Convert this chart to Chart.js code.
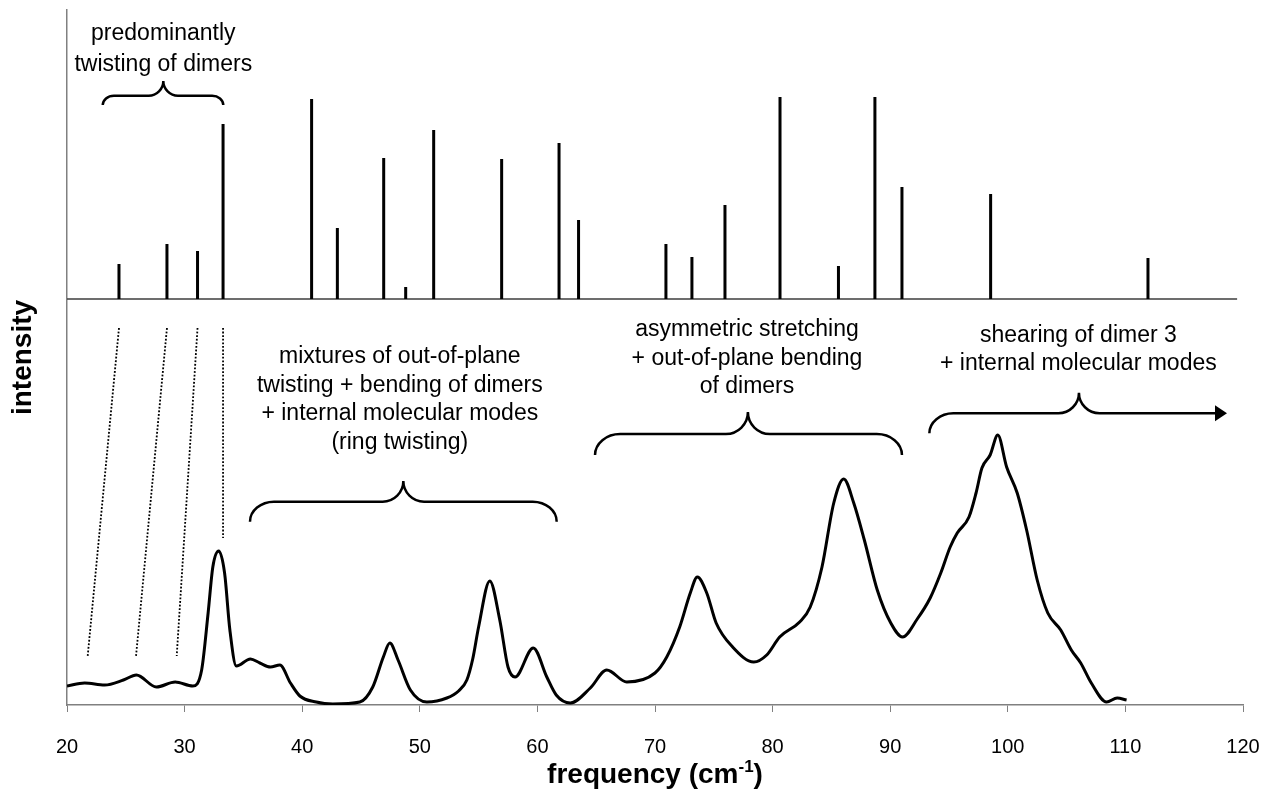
<!DOCTYPE html>
<html><head><meta charset="utf-8">
<script src="https://cdn.jsdelivr.net/npm/chart.js@4.4.1/dist/chart.umd.min.js"></script>
<style>html,body{margin:0;padding:0;background:#fff;overflow:hidden}canvas{display:block}</style>
</head><body>
<canvas id="c" width="1267" height="792"></canvas>
<script>
// ---- data ----
const spectrumFreq = [20.0, 21.5, 23.2, 24.8, 25.9, 27.6, 29.2, 30.7, 31.45, 32.0, 32.4, 32.9, 33.4, 33.85, 34.4, 35.6, 36.4, 37.3, 38.1, 39.0, 39.8, 41.2, 42.6, 44.9, 46.0, 46.9, 47.45, 48.15, 49.2, 50.6, 52.3, 53.3, 54.0, 54.5, 55.0, 55.95, 56.8, 57.5, 58.1, 59.65, 60.8, 61.6, 62.8, 64.5, 65.9, 67.6, 70.0, 71.0, 72.1, 73.0, 73.6, 74.4, 75.2, 76.6, 78.4, 79.5, 80.6, 82.3, 83.2, 84.2, 85.2, 86.05, 86.9, 87.8, 88.9, 90.05, 91.05, 92.3, 93.4, 94.3, 95.1, 95.7, 96.7, 97.3, 97.8, 98.5, 99.15, 99.9, 100.8, 101.6, 102.5, 103.4, 104.5, 105.4, 106.2, 107.1, 108.4, 109.3, 110.1];
const spectrumIntensity = [19, 22, 20, 25, 30, 18, 23, 19, 35, 92, 138, 154, 132, 75, 39, 46, 42, 38, 40, 22, 9, 3, 1, 3, 18, 48, 62, 45, 15, 3, 7, 14, 25, 46, 78, 124, 85, 38, 28, 57, 28, 10, 2, 17, 35, 23, 32, 48, 78, 112, 128, 112, 82, 58, 43, 50, 68, 83, 98, 138, 202, 226, 202, 165, 115, 82, 68, 86, 107, 132, 158, 172, 188, 212, 237, 250, 270, 238, 212, 175, 125, 92, 75, 55, 42, 22, 3, 7, 5];
const stickFreq = [24.42, 28.5, 31.1, 33.27, 40.8, 42.99, 46.93, 48.8, 51.18, 56.96, 61.84, 63.5, 70.93, 73.14, 75.95, 80.63, 85.6, 88.7, 91.0, 98.54, 111.92];
const stickIntensity = [35, 55, 48, 175, 200, 71, 141, 12, 169, 140, 156, 79, 55, 42, 94, 202, 33, 202, 112, 105, 41];
const xTicks = [20, 30, 40, 50, 60, 70, 80, 90, 100, 110, 120];
const stickBaselineRange = [20, 119.5];

// ---- annotations (positions in data units: x = frequency, y = spectrum intensity) ----
const FONT = '"Liberation Sans", Arial, sans-serif';
const noteTexts = [
  {x: 28.19, lines: ['predominantly', 'twisting of dimers'], y: [665, 634]},
  {x: 48.3, lines: ['mixtures of out-of-plane', 'twisting + bending of dimers', '+ internal molecular modes', '(ring twisting)'], y: [341.7, 313.3, 285, 256.5]},
  {x: 77.82, lines: ['asymmetric stretching', '+ out-of-plane bending', 'of dimers'], y: [369, 340.5, 312]},
  {x: 106.0, lines: ['shearing of dimer 3', '+ internal molecular modes'], y: [363.3, 335]}
];
const braces = [
  {x1: 23.04, x2: 33.29, xm: 28.19, yEnd: 600, yFlat: 609.3, yTip: 624, arrow: false},
  {x1: 35.56, x2: 61.64, xm: 48.6, yEnd: 183.3, yFlat: 203.3, yTip: 224, arrow: false},
  {x1: 64.9, x2: 91.0, xm: 77.9, yEnd: 250, yFlat: 271, yTip: 293, arrow: false},
  {x1: 93.33, x2: 118.64, xm: 106.05, yEnd: 271.7, yFlat: 291.7, yTip: 312.3, arrow: true}
];
const guideLines = [
  {x1: 24.42, y1: 377, x2: 21.76, y2: 49},
  {x1: 28.5, y1: 377, x2: 25.87, y2: 49},
  {x1: 31.1, y1: 377, x2: 29.33, y2: 49},
  {x1: 33.27, y1: 377, x2: 33.27, y2: 167}
];

// ---- build datasets from arrays ----
const spectrumData = spectrumFreq.map((f, i) => ({x: f, y: spectrumIntensity[i]}));
const stickData = [];
stickFreq.forEach((f, i) => { stickData.push({x: f, y: 0}, {x: f, y: stickIntensity[i]}, {x: f, y: null}); });
const baselineData = stickBaselineRange.map(f => ({x: f, y: 0}));

function drawBrace(ctx, b, X, Y) {
  const x1 = X(b.x1), x2 = X(b.x2), xm = X(b.xm);
  const yEnd = Y(b.yEnd), yFlat = Y(b.yFlat), yTip = Y(b.yTip);
  const ry = yEnd - yFlat, rx = ry * 1.2, th = yFlat - yTip, tw = th * 1.0;
  ctx.beginPath();
  ctx.moveTo(x1, yEnd);
  ctx.bezierCurveTo(x1, yEnd - ry * 0.55, x1 + rx * 0.45, yFlat, x1 + rx, yFlat);
  ctx.lineTo(xm - tw, yFlat);
  ctx.bezierCurveTo(xm - tw * 0.45, yFlat, xm, yFlat - th * 0.45, xm, yTip);
  ctx.bezierCurveTo(xm, yFlat - th * 0.45, xm + tw * 0.45, yFlat, xm + tw, yFlat);
  if (b.arrow) {
    ctx.lineTo(x2 - 10, yFlat);
    ctx.stroke();
    ctx.beginPath();
    ctx.moveTo(x2 - 12, yFlat - 8);
    ctx.lineTo(x2, yFlat);
    ctx.lineTo(x2 - 12, yFlat + 8);
    ctx.closePath();
    ctx.fill();
  } else {
    ctx.lineTo(x2 - rx, yFlat);
    ctx.bezierCurveTo(x2 - rx * 0.45, yFlat, x2, yEnd - ry * 0.55, x2, yEnd);
    ctx.stroke();
  }
}

const annotPlugin = {
  id: 'annot',
  afterDatasetsDraw(chart) {
    const {ctx} = chart;
    const xs = chart.scales.x, ys = chart.scales.y;
    const X = v => xs.getPixelForValue(v), Y = v => ys.getPixelForValue(v);
    ctx.save();
    ctx.strokeStyle = '#000'; ctx.fillStyle = '#000';
    // dotted guide lines
    ctx.lineWidth = 1.8; ctx.setLineDash([1.8, 1.8]);
    guideLines.forEach(g => { ctx.beginPath(); ctx.moveTo(X(g.x1), Y(g.y1)); ctx.lineTo(X(g.x2), Y(g.y2)); ctx.stroke(); });
    ctx.setLineDash([]);
    // braces
    ctx.lineWidth = 2.5; ctx.lineCap = 'butt';
    braces.forEach(b => drawBrace(ctx, b, X, Y));
    // texts
    ctx.font = '23px ' + FONT; ctx.textAlign = 'center'; ctx.textBaseline = 'alphabetic';
    noteTexts.forEach(t => t.lines.forEach((s, i) => ctx.fillText(s, X(t.x), Y(t.y[i]))));
    // x-axis title with superscript
    const cx = (chart.chartArea.left + chart.chartArea.right) / 2, by = 783;
    const big = 'bold 28px ' + FONT, small = 'bold 17px ' + FONT;
    ctx.textAlign = 'left';
    ctx.font = big; const w1 = ctx.measureText('frequency (cm').width, w3 = ctx.measureText(')').width;
    ctx.font = small; const w2 = ctx.measureText('-1').width;
    let sx = cx - (w1 + w2 + w3) / 2;
    ctx.font = big; ctx.fillText('frequency (cm', sx, by); sx += w1;
    ctx.font = small; ctx.fillText('-1', sx, by - 11); sx += w2;
    ctx.font = big; ctx.fillText(')', sx, by);
    ctx.restore();
  }
};

new Chart(document.getElementById('c'), {
  type: 'line',
  data: {
    datasets: [
      {label: 'spectrum', data: spectrumData, yAxisID: 'y', borderColor: '#000', borderWidth: 3, pointRadius: 0, cubicInterpolationMode: 'monotone', fill: false},
      {label: 'sticks', data: stickData, yAxisID: 'y2', borderColor: '#000', borderWidth: 3, pointRadius: 0, spanGaps: false, tension: 0, fill: false},
      {label: 'stick baseline', data: baselineData, yAxisID: 'y2', borderColor: '#3c3c3c', borderWidth: 1.6, pointRadius: 0, fill: false}
    ]
  },
  options: {
    responsive: false, animation: false, devicePixelRatio: 1,
    layout: {padding: {left: 0, right: 24, top: 10, bottom: 0}},
    plugins: {legend: {display: false}, tooltip: {enabled: false}},
    scales: {
      x: {
        type: 'linear', min: 20, max: 120,
        afterBuildTicks: s => { s.ticks = xTicks.map(v => ({value: v})); },
        afterFit: s => { s.height = 87; s.paddingLeft = 0; s.paddingRight = 0; },
        ticks: {font: {family: FONT, size: 20}, color: '#000', padding: 23, maxRotation: 0, autoSkip: false},
        grid: {drawOnChartArea: false, drawTicks: true, tickLength: 7, color: '#808080', lineWidth: 1},
        border: {display: true, color: '#808080', width: 1.5}
      },
      y: {
        type: 'linear', position: 'left', min: 0, max: 695,
        afterFit: s => { s.width = 67; },
        ticks: {display: false},
        grid: {display: false},
        border: {display: true, color: '#808080', width: 1.5},
        title: {display: true, text: 'intensity', color: '#000', font: {family: FONT, size: 28, weight: 'bold'}, padding: {top: 6, bottom: 0}}
      },
      y2: {type: 'linear', display: false, min: -406, max: 289}
    }
  },
  plugins: [annotPlugin]
});
</script>
</body></html>
